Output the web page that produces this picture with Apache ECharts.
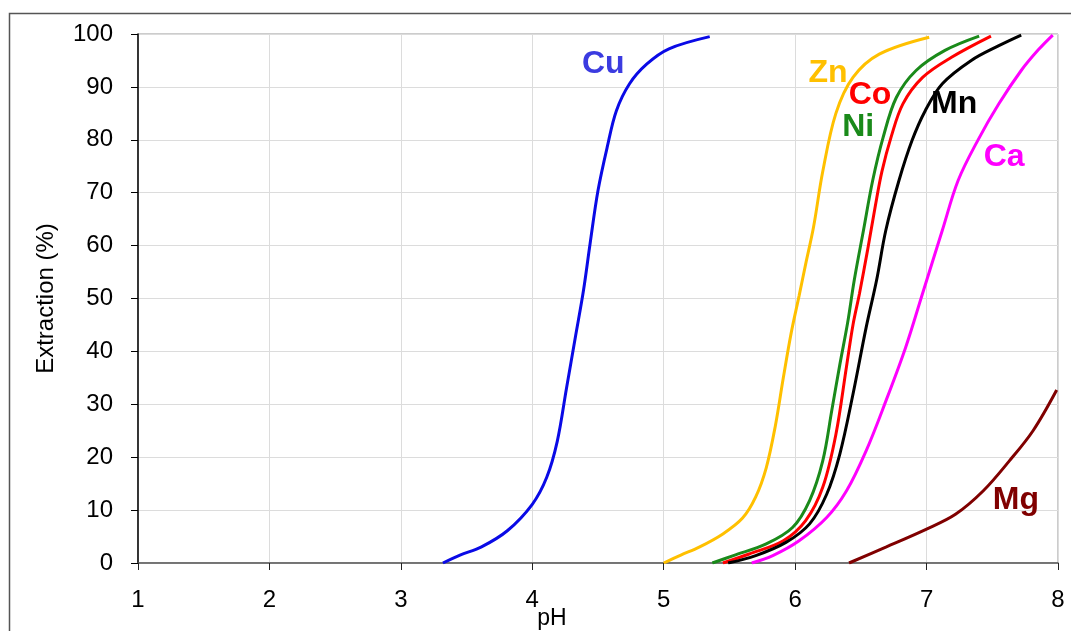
<!DOCTYPE html>
<html>
<head>
<meta charset="utf-8">
<script src="https://cdn.jsdelivr.net/npm/echarts@6/dist/echarts.min.js"></script>
<style>
  html, body { margin: 0; padding: 0; background: #fff; }
  #chart { width: 1071px; height: 631px; }
</style>
</head>
<body>
<div id="chart"></div>
<script>
// extraction curves, [pH, extraction %]
var cu = [[3.32,0],[3.45,1.5],[3.61,3.0],[3.81,6.1],[4.0,11.1],[4.11,16.2],[4.19,23],[4.26,33],[4.33,43],[4.39,51.6],[4.44,60.4],[4.50,70.4],[4.57,78.6],[4.64,85.5],[4.74,90.6],[4.87,94.3],[5.04,97.2],[5.35,99.5]];
var zn = [[5.0,0],[5.13,1.5],[5.27,3.0],[5.45,5.5],[5.6,8.5],[5.7,12.5],[5.78,18],[5.85,26],[5.91,35],[5.97,43.5],[6.03,50.5],[6.08,56.5],[6.14,63.5],[6.21,74],[6.31,85],[6.44,91.8],[6.64,96.2],[7.02,99.4]];
var ni = [[5.37,0],[5.53,1.4],[5.78,3.6],[5.98,6.7],[6.11,11.8],[6.21,19.3],[6.28,29],[6.34,37.5],[6.40,45.5],[6.45,53.5],[6.52,62.9],[6.59,72.3],[6.67,80.5],[6.77,88],[6.92,93.1],[7.14,96.9],[7.40,99.6]];
var co = [[5.45,0],[5.65,1.7],[5.91,4.2],[6.08,8],[6.21,14.3],[6.31,24.3],[6.39,37],[6.44,45],[6.49,51],[6.55,59],[6.61,67.5],[6.66,74],[6.73,80.5],[6.82,86.8],[6.97,91.8],[7.19,95.6],[7.49,99.6]];
var mn = [[5.49,0],[5.70,1.4],[5.93,3.9],[6.11,7.4],[6.24,13],[6.34,20.6],[6.44,31.9],[6.54,44.5],[6.62,53.5],[6.69,62.9],[6.79,72.3],[6.89,79.9],[6.99,85.5],[7.12,90.6],[7.34,95],[7.55,97.8],[7.72,99.8]];
var ca = [[5.67,0],[5.83,1.4],[6.03,4.2],[6.24,8.6],[6.39,13.6],[6.54,21.2],[6.69,30.6],[6.84,40.7],[6.97,51],[7.12,62.9],[7.24,72.3],[7.39,79.9],[7.55,86.8],[7.72,93.1],[7.85,97],[7.96,99.8]];
var mg = [[6.41,0],[6.69,3],[7.0,6.4],[7.22,9.2],[7.43,13.6],[7.63,19.3],[7.81,25],[7.99,32.7]];

var metals = ['Cu', 'Zn', 'Ni', 'Co', 'Mn', 'Ca', 'Mg'];
// where each metal name is written, [pH, extraction]
var labelPos = [[4.54,94.3],[6.25,92.6],[6.48,82.4],[6.57,88.5],[7.21,86.8],[7.59,76.7],[7.68,11.9]];

window.onload = function() {
    var chart = echarts.init(document.getElementById('chart'));
    var curves = [cu, zn, ni, co, mn, ca, mg];
    var colors = ['#0a0ae6', '#ffc000', '#1a8a1a', '#ff0000', '#000000', '#ff00ff', '#800000'];
    var labelColors = ['#3b3be0', '#ffc000', '#1a8a1a', '#ff0000', '#000000', '#ff00ff', '#800000'];

    var series = curves.map(function(d, i) {
        return {
            name: metals[i],
            type: 'line',
            smooth: 0.35,
            showSymbol: false,
            lineStyle: { color: colors[i], width: 3 },
            data: d,
            markPoint: {
                symbol: 'circle',
                symbolSize: 0,
                data: [{
                    name: metals[i],
                    coord: labelPos[i]
                }],
                label: {
                    show: true,
                    position: 'inside',
                    formatter: '{b}',
                    color: labelColors[i],
                    fontFamily: 'Liberation Sans, Arial',
                    fontWeight: 'bold',
                    fontSize: 32
                }
            }
        };
    });

    chart.setOption({
        animation: false,
        graphic: [{
            type: 'rect',
            shape: { x: 9.5, y: 13.5, width: 1100, height: 700 },
            style: { fill: 'none', stroke: '#555', lineWidth: 1.5 },
            silent: true
        }],
        grid: {
            left: 138,
            right: 13,
            top: 34,
            bottom: 68,
            outerBoundsMode: 'none',
            show: true,
            borderColor: '#999',
            borderWidth: 1
        },
        xAxis: {
            type: 'value',
            min: 1,
            max: 8,
            interval: 1,
            name: 'pH',
            nameLocation: 'middle',
            nameGap: 44,
            nameMoveOverlap: false,
            nameTextStyle: {
                color: '#000',
                fontSize: 23,
                fontFamily: 'Liberation Sans, Arial',
                padding: [0, 92, 0, 0]
            },
            axisLine: { lineStyle: { color: '#555', width: 1.5 } },
            axisTick: { show: true, length: 7, lineStyle: { color: '#222' } },
            axisLabel: {
                color: '#000',
                fontSize: 24,
                fontFamily: 'Liberation Sans, Arial',
                margin: 25
            },
            splitLine: { show: true, lineStyle: { color: '#dcdcdc' } }
        },
        yAxis: {
            type: 'value',
            min: 0,
            max: 100,
            interval: 10,
            name: 'Extraction (%)',
            nameLocation: 'middle',
            nameGap: 80,
            nameMoveOverlap: false,
            nameTextStyle: {
                color: '#000',
                fontSize: 24,
                fontFamily: 'Liberation Sans, Arial'
            },
            axisLine: { show: true, lineStyle: { color: '#000', width: 1.5 } },
            axisTick: { show: true, length: 7, lineStyle: { color: '#000' } },
            axisLabel: {
                color: '#000',
                fontSize: 24,
                fontFamily: 'Liberation Sans, Arial',
                margin: 25
            },
            splitLine: { show: true, lineStyle: { color: '#dcdcdc' } }
        },
        series: series
    });
};
</script>
</body>
</html>
